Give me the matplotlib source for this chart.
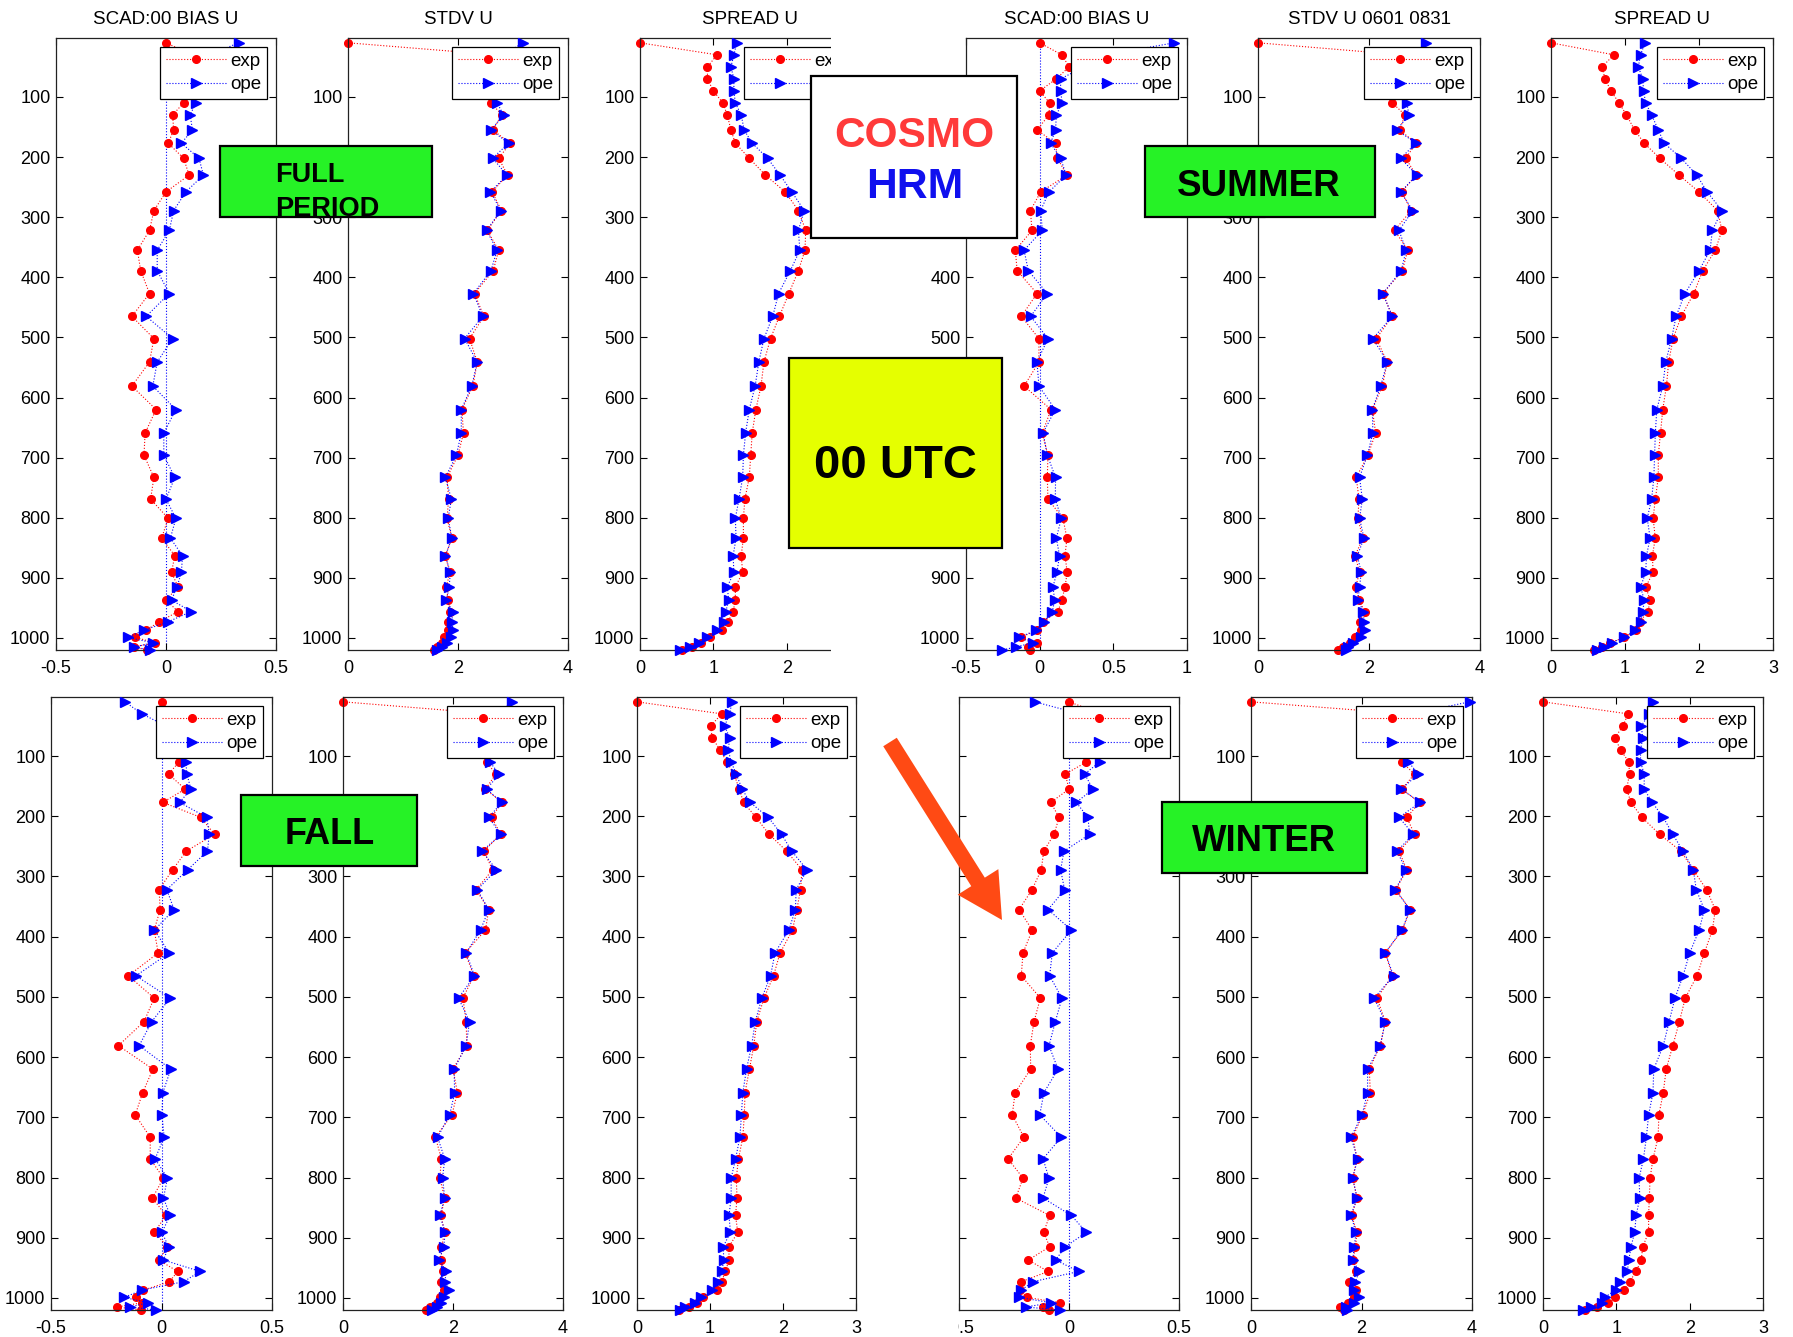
import matplotlib
matplotlib.use('Agg')
import matplotlib.pyplot as plt
from matplotlib.patches import Rectangle, Polygon
import numpy as np

plt.rcParams['font.family'] = ['Liberation Sans', 'DejaVu Sans']

# ---------------- data ----------------
levels = [10, 30, 50, 70, 90, 110, 130, 155, 177, 202, 230, 258, 289, 322, 355, 389, 427, 465, 502,
          541, 581, 620, 659, 696, 733, 769, 801, 834, 863, 891, 915, 937, 956, 973, 987, 999, 1008, 1015, 1020]

bias_full_exp = [0.00, 0.12, 0.10, 0.08, 0.09, 0.08, 0.03, 0.035, 0.01, 0.08, 0.105, 0.00, -0.055, -0.075, -0.13,
                 -0.115, -0.075, -0.155, -0.055, -0.075, -0.155, -0.045, -0.095, -0.10, -0.055, -0.07, 0.01, -0.02,
                 0.04, 0.025, 0.055, 0.00, 0.055, -0.03, -0.09, -0.14, -0.05, -0.145, -0.085]
bias_full_ope = [0.33, 0.20, 0.15, 0.14, 0.13, 0.135, 0.11, 0.12, 0.07, 0.15, 0.17, 0.09, 0.035, 0.015, -0.04,
                 -0.04, 0.015, -0.09, 0.03, -0.04, -0.06, 0.045, -0.01, -0.01, 0.04, 0.00, 0.045, 0.02, 0.075,
                 0.07, 0.05, 0.025, 0.115, 0.01, -0.10, -0.175, -0.06, -0.145, -0.075]
stdv_full_exp = [0.0, 2.7, 2.6, 2.6, 2.6, 2.6, 2.8, 2.63, 2.95, 2.74, 2.9, 2.62, 2.79, 2.53, 2.74, 2.64, 2.3, 2.47,
                 2.21, 2.35, 2.27, 2.07, 2.1, 2.0, 1.8, 1.83, 1.8, 1.89, 1.77, 1.85, 1.79, 1.82, 1.86, 1.81, 1.81,
                 1.75, 1.71, 1.62, 1.56]
stdv_full_ope = [3.19, 2.8, 2.7, 2.65, 2.65, 2.71, 2.83, 2.6, 2.92, 2.63, 2.89, 2.59, 2.78, 2.52, 2.71, 2.6, 2.28,
                 2.45, 2.12, 2.35, 2.25, 2.06, 2.06, 1.97, 1.77, 1.88, 1.82, 1.89, 1.77, 1.86, 1.84, 1.79, 1.9,
                 1.89, 1.91, 1.87, 1.8, 1.71, 1.62]
spread_full_exp = [0.0, 1.05, 0.92, 0.92, 1.0, 1.13, 1.19, 1.24, 1.3, 1.49, 1.71, 1.98, 2.16, 2.26, 2.25, 2.16,
                   2.03, 1.9, 1.78, 1.69, 1.65, 1.58, 1.53, 1.51, 1.49, 1.43, 1.41, 1.41, 1.38, 1.4, 1.3, 1.3,
                   1.27, 1.2, 1.12, 0.95, 0.83, 0.71, 0.57]
spread_full_ope = [1.32, 1.28, 1.24, 1.28, 1.28, 1.3, 1.38, 1.42, 1.53, 1.74, 1.91, 2.07, 2.24, 2.16, 2.18, 2.05,
                   1.89, 1.81, 1.69, 1.62, 1.57, 1.49, 1.44, 1.41, 1.4, 1.35, 1.3, 1.31, 1.27, 1.28, 1.19, 1.21,
                   1.17, 1.14, 1.05, 0.91, 0.8, 0.68, 0.55]

bias_sum_exp = [0.0, 0.15, 0.2, 0.113, 0.0, 0.068, 0.063, -0.018, 0.108, 0.12, 0.185, 0.007, -0.063, -0.052,
                -0.165, -0.153, -0.018, -0.124, -0.005, -0.005, -0.106, 0.077, 0.018, 0.056, 0.052, 0.056, 0.158,
                0.185, 0.172, 0.187, 0.172, 0.151, 0.124, 0.023, -0.016, -0.129, -0.016, -0.079, -0.068]
bias_sum_ope = [0.914, 0.45, 0.3, 0.142, 0.142, 0.153, 0.113, 0.108, 0.074, 0.142, 0.18, 0.063, 0.007, 0.018,
                -0.106, -0.077, 0.052, -0.061, 0.056, -0.018, -0.005, 0.106, 0.023, 0.052, 0.108, 0.106, 0.147,
                0.113, 0.135, 0.117, 0.09, 0.102, 0.086, 0.029, -0.023, -0.14, -0.045, -0.163, -0.253]
stdv_sum_exp = [0.0, 2.6, 2.5, 2.45, 2.45, 2.42, 2.65, 2.55, 2.85, 2.66, 2.85, 2.59, 2.76, 2.46, 2.7, 2.6, 2.25,
                2.42, 2.13, 2.33, 2.24, 2.06, 2.12, 1.98, 1.77, 1.82, 1.8, 1.89, 1.75, 1.83, 1.76, 1.82, 1.92, 1.83,
                1.86, 1.74, 1.65, 1.53, 1.44]
stdv_sum_ope = [3.03, 2.8, 2.7, 2.7, 2.7, 2.68, 2.72, 2.5, 2.85, 2.57, 2.86, 2.57, 2.79, 2.54, 2.67, 2.58, 2.25,
                2.42, 2.07, 2.33, 2.21, 2.06, 2.07, 1.97, 1.83, 1.88, 1.83, 1.91, 1.79, 1.86, 1.83, 1.8, 1.9, 1.91,
                1.92, 1.85, 1.71, 1.62, 1.59]
spread_sum_exp = [0.0, 0.85, 0.69, 0.73, 0.81, 0.92, 1.02, 1.13, 1.26, 1.47, 1.73, 2.0, 2.25, 2.31, 2.22, 2.05,
                  1.93, 1.76, 1.65, 1.59, 1.56, 1.51, 1.48, 1.45, 1.45, 1.41, 1.38, 1.41, 1.37, 1.38, 1.28, 1.34,
                  1.31, 1.2, 1.15, 0.99, 0.8, 0.69, 0.58]
spread_sum_ope = [1.27, 1.21, 1.18, 1.24, 1.25, 1.28, 1.36, 1.45, 1.53, 1.76, 1.97, 2.11, 2.31, 2.18, 2.15, 2.0,
                  1.81, 1.69, 1.63, 1.55, 1.51, 1.43, 1.41, 1.4, 1.39, 1.36, 1.3, 1.34, 1.29, 1.28, 1.21, 1.26,
                  1.24, 1.21, 1.14, 0.99, 0.82, 0.71, 0.62]

bias_fall_exp = [0.0, 0.05, 0.06, 0.07, 0.06, 0.079, 0.032, 0.107, 0.006, 0.178, 0.24, 0.112, 0.05, -0.011,
                 -0.006, -0.033, -0.015, -0.15, -0.033, -0.079, -0.195, -0.039, -0.085, -0.119, -0.051, -0.051,
                 0.009, -0.041, 0.02, -0.032, 0.027, -0.012, 0.073, 0.036, -0.082, -0.115, -0.089, -0.2, -0.094]
bias_fall_ope = [-0.165, -0.089, 0.02, 0.05, 0.08, 0.11, 0.115, 0.133, 0.082, 0.205, 0.216, 0.208, 0.118, 0.024,
                 0.057, -0.032, 0.035, -0.116, 0.039, -0.044, -0.101, 0.042, 0.006, 0.002, 0.012, -0.029, 0.027,
                 0.009, 0.039, 0.002, 0.032, 0.009, 0.175, 0.1, -0.089, -0.169, -0.062, -0.142, -0.024]
stdv_fall_exp = [0.0, 2.7, 2.6, 2.6, 2.6, 2.61, 2.78, 2.59, 2.89, 2.7, 2.87, 2.56, 2.72, 2.42, 2.65, 2.59, 2.22,
                 2.38, 2.18, 2.24, 2.25, 2.0, 2.08, 1.98, 1.68, 1.79, 1.76, 1.85, 1.78, 1.85, 1.79, 1.79, 1.81,
                 1.79, 1.83, 1.76, 1.7, 1.58, 1.5]
stdv_fall_ope = [3.08, 2.8, 2.7, 2.7, 2.65, 2.67, 2.84, 2.61, 2.89, 2.65, 2.87, 2.53, 2.79, 2.44, 2.65, 2.5, 2.24,
                 2.39, 2.1, 2.3, 2.24, 2.02, 2.03, 1.94, 1.72, 1.85, 1.81, 1.85, 1.76, 1.86, 1.83, 1.75, 1.88,
                 1.85, 1.93, 1.83, 1.79, 1.7, 1.61]
spread_fall_exp = [0.0, 1.16, 1.01, 1.03, 1.14, 1.23, 1.33, 1.4, 1.46, 1.63, 1.81, 2.05, 2.26, 2.24, 2.19, 2.13,
                   1.96, 1.87, 1.74, 1.64, 1.6, 1.54, 1.48, 1.47, 1.45, 1.39, 1.36, 1.37, 1.35, 1.38, 1.26, 1.26,
                   1.21, 1.16, 1.1, 0.91, 0.82, 0.71, 0.57]
spread_fall_ope = [1.3, 1.27, 1.2, 1.27, 1.25, 1.29, 1.36, 1.44, 1.55, 1.8, 1.98, 2.12, 2.33, 2.18, 2.17, 2.08,
                   1.89, 1.83, 1.71, 1.62, 1.57, 1.5, 1.45, 1.43, 1.41, 1.35, 1.29, 1.29, 1.26, 1.28, 1.18, 1.19,
                   1.16, 1.11, 1.03, 0.88, 0.8, 0.66, 0.59]

bias_win_exp = [0.0, 0.15, 0.1, 0.12, 0.11, 0.079, -0.017, 0.0, -0.083, -0.045, -0.068, -0.115, -0.126, -0.168,
                -0.227, -0.167, -0.209, -0.217, -0.13, -0.159, -0.176, -0.174, -0.245, -0.258, -0.205, -0.277,
                -0.209, -0.242, -0.088, -0.115, -0.088, -0.185, -0.095, -0.217, -0.224, -0.19, -0.042, -0.118,
                -0.091]
bias_win_ope = [-0.156, 0.05, 0.1, 0.12, 0.13, 0.139, 0.071, 0.109, 0.033, 0.086, 0.094, -0.023, -0.038, -0.02,
                -0.095, 0.011, -0.076, -0.088, -0.032, -0.062, -0.091, -0.05, -0.114, -0.133, -0.035, -0.118,
                -0.091, -0.118, 0.011, 0.079, -0.017, -0.061, 0.044, -0.164, -0.217, -0.227, -0.08, -0.197,
                -0.042]
stdv_win_exp = [0.0, 2.8, 2.7, 2.7, 2.7, 2.73, 2.96, 2.73, 3.05, 2.82, 2.96, 2.68, 2.82, 2.62, 2.88, 2.74, 2.43,
                2.56, 2.28, 2.43, 2.34, 2.14, 2.16, 2.02, 1.84, 1.92, 1.84, 1.92, 1.82, 1.92, 1.89, 1.85, 1.9, 1.78,
                1.9, 1.87, 1.76, 1.61, 1.69]
stdv_win_ope = [3.96, 2.9, 2.8, 2.75, 2.8, 2.85, 3.03, 2.72, 3.06, 2.68, 2.94, 2.64, 2.81, 2.61, 2.88, 2.73, 2.43,
                2.58, 2.23, 2.43, 2.34, 2.11, 2.11, 2.01, 1.81, 1.93, 1.84, 1.92, 1.81, 1.9, 1.87, 1.84, 1.96,
                1.89, 1.87, 1.95, 1.86, 1.72, 1.73]
spread_win_exp = [0.0, 1.16, 1.09, 0.98, 1.06, 1.17, 1.18, 1.14, 1.2, 1.35, 1.59, 1.88, 2.05, 2.23, 2.35, 2.31,
                  2.2, 2.1, 1.94, 1.86, 1.77, 1.68, 1.64, 1.58, 1.57, 1.5, 1.46, 1.45, 1.44, 1.44, 1.36, 1.34,
                  1.27, 1.18, 1.1, 0.98, 0.88, 0.73, 0.57]
spread_win_ope = [1.5, 1.45, 1.34, 1.36, 1.33, 1.33, 1.38, 1.38, 1.49, 1.64, 1.77, 1.91, 2.05, 2.09, 2.2, 2.13,
                  2.0, 1.91, 1.8, 1.72, 1.64, 1.51, 1.5, 1.44, 1.41, 1.37, 1.31, 1.32, 1.27, 1.25, 1.2, 1.17,
                  1.15, 1.05, 0.99, 0.84, 0.8, 0.66, 0.55]

titles = ["SCAD:00 BIAS U", "STDV U", "SPREAD U", "SCAD:00 BIAS U", "STDV U 0601 0831", "SPREAD U"]
yticks = [100, 200, 300, 400, 500, 600, 700, 800, 900, 1000]

# ---------------- figure ----------------
W, H = 1793, 1337
fig = plt.figure(figsize=(W / 100, H / 100), dpi=100)


def fx(x):
    return x / W


def fy(y):
    return 1 - y / H


rows = [(38, 650), (697, 1310)]
panels = [
    # row, left, right, exp, ope, xlim, xticks, xlabels, title, bias, ylabels
    (0, 56, 276, bias_full_exp, bias_full_ope, (-0.5, 0.5), [-0.5, 0, 0.5], ['-0.5', '0', '0.5'], titles[0], True, True),
    (0, 348, 568, stdv_full_exp, stdv_full_ope, (0, 4), [0, 2, 4], ['0', '2', '4'], titles[1], False, True),
    (0, 640, 860, spread_full_exp, spread_full_ope, (0, 3), [0, 1, 2, 3], ['0', '1', '2', '3'], titles[2], False, True),
    (0, 966, 1187, bias_sum_exp, bias_sum_ope, (-0.5, 1), [-0.5, 0, 0.5, 1], ['-0.5', '0', '0.5', '1'], titles[3], True, True),
    (0, 1258, 1480, stdv_sum_exp, stdv_sum_ope, (0, 4), [0, 2, 4], ['0', '2', '4'], titles[4], False, True),
    (0, 1551, 1773, spread_sum_exp, spread_sum_ope, (0, 3), [0, 1, 2, 3], ['0', '1', '2', '3'], titles[5], False, True),
    (1, 51, 272, bias_fall_exp, bias_fall_ope, (-0.5, 0.5), [-0.5, 0, 0.5], ['-0.5', '0', '0.5'], None, True, True),
    (1, 343, 563, stdv_fall_exp, stdv_fall_ope, (0, 4), [0, 2, 4], ['0', '2', '4'], None, False, True),
    (1, 637, 856, spread_fall_exp, spread_fall_ope, (0, 3), [0, 1, 2, 3], ['0', '1', '2', '3'], None, False, True),
    (1, 959, 1179, bias_win_exp, bias_win_ope, (-0.5, 0.5), [-0.5, 0, 0.5], ['-0.5', '0', '0.5'], None, True, False),
    (1, 1251, 1472, stdv_win_exp, stdv_win_ope, (0, 4), [0, 2, 4], ['0', '2', '4'], None, False, True),
    (1, 1543, 1763, spread_win_exp, spread_win_ope, (0, 3), [0, 1, 2, 3], ['0', '1', '2', '3'], None, False, True),
]

for (row, l, r, exp, ope, xlim, xt, xl, title, bias, ylab) in panels:
    top, bot = rows[row]
    ax = fig.add_axes([fx(l), fy(bot), (r - l) / W, (bot - top) / H])
    if bias:
        ax.axvline(0, color='blue', linestyle=':', linewidth=0.8, zorder=1)
    ax.plot(exp, levels, color='red', linestyle=':', linewidth=0.8, marker='o', markersize=5.5,
            markerfacecolor='red', markeredgecolor='red', label='exp', clip_on=False, zorder=2)
    ax.plot(ope, levels, color='blue', linestyle=':', linewidth=0.8, marker='>', markersize=7,
            markerfacecolor='blue', markeredgecolor='blue', label='ope', clip_on=False, zorder=3)
    ax.set_xlim(*xlim)
    ax.set_ylim(1020, 2)
    ax.set_xticks(xt)
    ax.set_xticklabels(xl)
    ax.set_yticks(yticks)
    if not ylab:
        ax.set_yticklabels([])
    ax.tick_params(direction='in', top=True, right=True, length=5, width=0.8, labelsize=13, colors='black')
    ax.tick_params(axis='x', pad=7)
    ax.tick_params(axis='y', pad=4)
    for sp in ax.spines.values():
        sp.set_linewidth(0.9)
        sp.set_color('#222222')
    if title:
        ax.set_title(title, fontsize=13.5, pad=10)
    leg = ax.legend(loc='upper right', fontsize=13.5, numpoints=1, handlelength=3.2, handletextpad=0.25,
                    borderpad=0.28, labelspacing=0.35, borderaxespad=0.5, fancybox=False, framealpha=1,
                    edgecolor='black')
    leg.get_frame().set_linewidth(0.9)
    leg.set_zorder(10)


def add_rect(x0, y0, x1, y1, fc, ec='black', lw=1.6, z=5):
    rect = Rectangle((fx(x0), fy(y1)), (x1 - x0) / W, (y1 - y0) / H, transform=fig.transFigure,
                     facecolor=fc, edgecolor=ec, linewidth=lw, zorder=z)
    fig.add_artist(rect)
    return rect


# blank strips (cropped parts of the composed slide)
add_rect(831, 0, 905, 688, 'white', ec='none', lw=0, z=4)
add_rect(866, 688, 958, H, 'white', ec='none', lw=0, z=4)

green = '#26F226'
dy = 3.5
# FULL PERIOD
r_full = add_rect(219.5, 146.4, 432, 217.3, green, z=6)
for txt, yb in [("FULL", 182), ("PERIOD", 216)]:
    t = fig.text(fx(275), fy(yb), txt, fontsize=19.5, fontweight='bold', color='black', ha='left',
                 va='baseline', zorder=7)
    t.set_clip_path(r_full)

# SUMMER
add_rect(1144.6, 146.4, 1374.5, 217.3, green, z=6)
fig.text(fx(1259), fy(183 + dy), "SUMMER", fontsize=26.5, fontweight='bold', ha='center', va='center', zorder=7)
# FALL
add_rect(241.3, 794.9, 417.4, 865.8, green, z=6)
fig.text(fx(329.3), fy(831.4 + dy), "FALL", fontsize=26, fontweight='bold', ha='center', va='center', zorder=7)
# WINTER
add_rect(1161.8, 801.7, 1366.5, 872.6, green, z=6)
fig.text(fx(1263.6), fy(838.3 + dy), "WINTER", fontsize=26.3, fontweight='bold', ha='center', va='center', zorder=7)

# COSMO / HRM box
add_rect(810.7, 75.5, 1016.6, 237.9, 'white', z=6)
fig.text(fx(914.8), fy(132.7 + dy), "COSMO", fontsize=30.5, fontweight='bold', color='#FF3A3A', ha='center',
         va='center', zorder=7)
fig.text(fx(914.8), fy(183 + dy), "HRM", fontsize=30.7, fontweight='bold', color='#1010EE', ha='center',
         va='center', zorder=7)

# 00 UTC box
add_rect(789, 358, 1001.7, 547.8, '#E5FF00', z=6)
fig.text(fx(895.4), fy(462 + 4.5), "00 UTC", fontsize=34, fontweight='bold', color='black', ha='center',
         va='center', zorder=7)

# arrow
T = np.array([890.0, 742.0])
P = np.array([1002.0, 920.0])
u = (P - T) / np.linalg.norm(P - T)
n = np.array([-u[1], u[0]])
head_len, hw, sw = 45.0, 24.0, 8.0
B = P - head_len * u
pts = [T + sw * n, B + sw * n, B + hw * n, P, B - hw * n, B - sw * n, T - sw * n]
pts_fig = [(fx(p[0]), fy(p[1])) for p in pts]
arrow = Polygon(pts_fig, closed=True, transform=fig.transFigure, facecolor='#FF4A14', edgecolor='none',
                zorder=8)
fig.add_artist(arrow)

fig.savefig('out.png', dpi=100)
